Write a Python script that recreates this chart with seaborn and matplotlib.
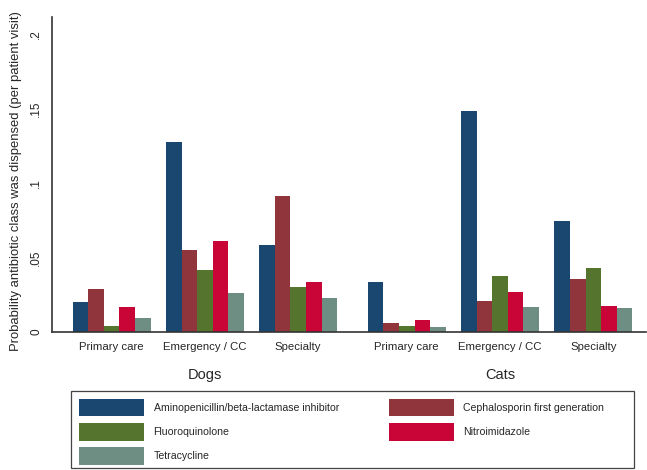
import numpy as np
import pandas as pd
import seaborn as sns
import matplotlib.pyplot as plt
from matplotlib.patches import Patch, Rectangle
from matplotlib.transforms import blended_transform_factory

# ---- data ----
species = ['Dogs', 'Cats']
settings = ['Primary care', 'Emergency / CC', 'Specialty']
antibiotics = ['Aminopenicillin/beta-lactamase inhibitor',
               'Cephalosporin first generation',
               'Fluoroquinolone',
               'Nitroimidazole',
               'Tetracycline']

# values per antibiotic: Dogs (PC, ER, Spec), Cats (PC, ER, Spec)
amino = [0.0202, 0.1275, 0.0583, 0.0338, 0.1483, 0.0744]
cephalo = [0.0287, 0.0549, 0.0916, 0.0058, 0.0210, 0.0354]
fluoro = [0.0040, 0.0417, 0.0300, 0.0042, 0.0376, 0.0428]
nitro = [0.0166, 0.0614, 0.0336, 0.0081, 0.0267, 0.0173]
tetra = [0.0092, 0.0260, 0.0226, 0.0031, 0.0166, 0.0161]

colors = ['#1a476f', '#90353b', '#55752f', '#c80536', '#6e8e84']

# ---- build long table ----
species_gap = 0.164
pos = []
for s_i, sp in enumerate(species):
    for k, st in enumerate(settings):
        pos.append(s_i * 3 + k + s_i * species_gap)

rows = []
for name, vals in zip(antibiotics, [amino, cephalo, fluoro, nitro, tetra]):
    for p, v in zip(pos, vals):
        rows.append({'pos': p, 'antibiotic': name, 'prob': v})
df = pd.DataFrame(rows)

sns.set_style('white')
plt.rcParams['font.family'] = ['Liberation Sans', 'DejaVu Sans']

fig = plt.figure(figsize=(6.47, 4.70), dpi=100)
ax = fig.add_axes([52 / 647, 1 - 332 / 470, 594 / 647, 315 / 470])

sns.barplot(data=df, x='pos', y='prob', hue='antibiotic', hue_order=antibiotics,
            palette=colors, saturation=1, native_scale=True, width=0.836,
            errorbar=None, linewidth=0, legend=False, ax=ax)

ax.set_xlim(-0.64, pos[-1] + 0.565)
ax.set_ylim(0, 0.2114)

yt = [0, 0.05, 0.1, 0.15, 0.2]
ax.set_yticks(yt, ['0', '.05', '.1', '.15', '.2'])
for lab in ax.get_yticklabels():
    lab.set_rotation(90)
    lab.set_va('center')
ax.tick_params(axis='y', length=5, width=1, color='#333333', pad=2, labelsize=8.5)

ax.set_xticks(pos, settings * 2)
ax.tick_params(axis='x', length=0, pad=7, labelsize=8.2)

ax.set_xlabel('')
ax.set_ylabel('')
for side in ['top', 'right']:
    ax.spines[side].set_visible(False)
for side in ['left', 'bottom']:
    ax.spines[side].set_color('#333333')
    ax.spines[side].set_linewidth(1.2)

# species labels under the middle setting
trans = blended_transform_factory(ax.transData, fig.transFigure)
for s_i, sp in enumerate(species):
    ax.text(pos[s_i * 3 + 1], 1 - 375 / 470, sp, fontsize=10.5,
            ha='center', va='center', transform=trans)

fig.text(16 / 647, 1 - 181 / 470,
         'Probability antibiotic class was dispensed (per patient visit)',
         rotation=90, ha='center', va='center', fontsize=9.4)

# ---- legend, row-wise order in two columns ----
order = [0, 2, 4, 1, 3]
handles = [Patch(facecolor=colors[i], edgecolor='none') for i in order]
labels = [antibiotics[i] for i in order]
fig.legend(handles, labels, ncol=2, loc='upper left',
           bbox_to_anchor=(71 / 647, 1 - 390.7 / 470), borderaxespad=0,
           frameon=False, fontsize=7.6, handlelength=6.2, handleheight=2.2,
           handletextpad=0.87, labelspacing=0.62, columnspacing=4.7,
           borderpad=0.75)
fig.add_artist(Rectangle((71 / 647, 1 - 468 / 470), 563 / 647, 77.3 / 470,
                         transform=fig.transFigure, fill=False,
                         edgecolor='#444444', linewidth=0.9))

fig.savefig('out.png', dpi=100)
